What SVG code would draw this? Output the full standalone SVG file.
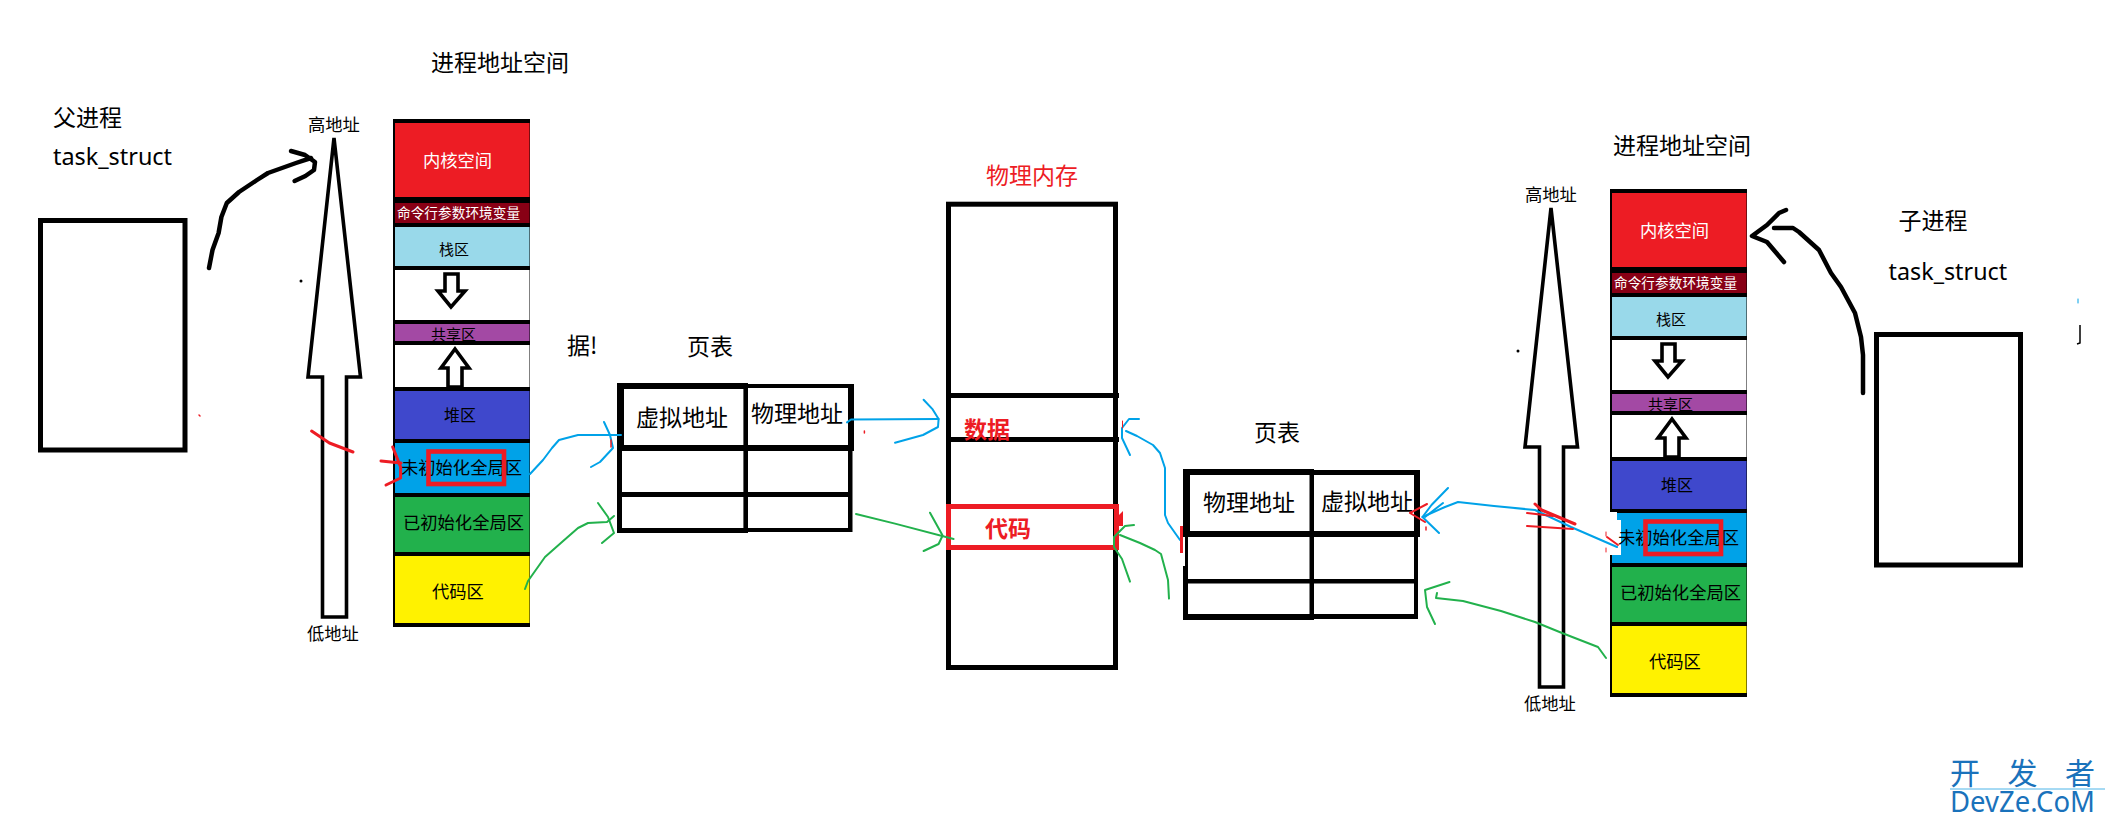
<svg xmlns="http://www.w3.org/2000/svg" width="2105" height="823" viewBox="0 0 2105 823">
<style>
text{font-family:"Noto Sans CJK SC","Noto Sans",sans-serif;fill:#000}
.lat{font-family:"Noto Sans","Noto Sans CJK SC",sans-serif}
.s23{font-size:23px}.s17{font-size:17.3px}.s15{font-size:15px}.s16{font-size:16px}.s13{font-size:13.6px}
.w{fill:#fff}.r{fill:#ed1c24}.bold{font-weight:700}
.box{fill:#fff;stroke:#000;stroke-width:5}
.arrow{fill:#fff;stroke:#000;stroke-width:3.6;stroke-linejoin:miter}
.ink,.blue,.green,.red{fill:none;stroke-linecap:round;stroke-linejoin:round}
.ink{stroke:#000;stroke-width:4.5}
.blue{stroke:#00a2e8;stroke-width:2}
.green{stroke:#22b14c;stroke-width:2}
.red{stroke:#ed1c24;stroke-width:3}
.frame{fill:none;stroke:#ed1c24;stroke-width:4.6}
.mark{fill:#1a72bb}
</style>

<g id="parent-process">
<text class="s23" x="53" y="126">父进程</text>
<text class="s23 lat" x="53" y="165" textLength="119" lengthAdjust="spacingAndGlyphs">task_struct</text>
<rect class="box" x="40.500" y="220.500" width="144.500" height="229.500"/>
</g>

<g id="parent-address-axis">
<text class="s17" x="308" y="130.500">高地址</text>
<polygon class="arrow" points="334,138 360.500,377 346.500,377 346.500,617 322.500,617 322.500,377 308,377"/>
<text class="s17" x="307" y="640">低地址</text>
<circle cx="301" cy="281" r="1.500" fill="#000"/>
</g>

<g id="parent-address-space">
<text class="s23" x="431" y="71">进程地址空间</text>
<rect x="393" y="119" width="137" height="508" fill="#000"/>
<rect x="395" y="123" width="134.500" height="74" fill="#ed1c24"/>
<rect x="395" y="203" width="134.500" height="20" fill="#880015"/>
<rect x="395" y="227" width="134.500" height="39" fill="#99d9ea"/>
<rect x="395" y="270" width="134.500" height="50" fill="#fff"/>
<rect x="395" y="324" width="134.500" height="17" fill="#a349a4"/>
<rect x="395" y="345" width="134.500" height="42" fill="#fff"/>
<rect x="395" y="391" width="134.500" height="48" fill="#3f48cc"/>
<rect x="395" y="443" width="134.500" height="50" fill="#00a2e8"/>
<rect x="395" y="497" width="134.500" height="55" fill="#22b14c"/>
<rect x="395" y="556" width="134.500" height="67" fill="#fff200"/>
<text class="s17 w" x="423" y="166.500">内核空间</text>
<text class="s13 w" x="397" y="218" textLength="123">命令行参数环境变量</text>
<text class="s15" x="439" y="254.500">栈区</text>
<polygon class="arrow" points="445,274 458,274 458,291 465,291 451,307 438,291 445,291"/>
<text class="s15" x="431" y="339.500">共享区</text>
<polygon class="arrow" points="455,349 469,368 462,368 462,387 448,387 448,368 441,368"/>
<text class="s16" x="444" y="421">堆区</text>
<text class="s17" x="401" y="474">未初始化全局区</text>
<rect class="frame" x="428.500" y="451.500" width="75.500" height="32.500"/>
<text class="s17" x="403" y="528.500">已初始化全局区</text>
<text class="s17" x="432" y="597.500">代码区</text>
</g>

<g id="parent-page-table">
<text class="s23" x="567" y="354">据!</text>
<text class="s23" x="687" y="355">页表</text>
<polygon points="617,383 748,383 748,384 854,384 854,451 852.500,451 852.500,532 748,532 748,533 617,533" fill="#000"/>
<rect class="w" x="624" y="389" width="119.400" height="56"/>
<rect class="w" x="748" y="388" width="100" height="57"/>
<rect class="w" x="622" y="451" width="121.400" height="41"/>
<rect class="w" x="748" y="451" width="100" height="41"/>
<rect class="w" x="622" y="497" width="121.400" height="31"/>
<rect class="w" x="748" y="497" width="100" height="31"/>
<text class="s23" x="636" y="426">虚拟地址</text>
<text class="s23" x="751" y="422">物理地址</text>
</g>

<g id="physical-memory">
<text class="s23 r" x="986" y="184">物理内存</text>
<rect class="box" x="948.500" y="204.200" width="167" height="463.300"/>
<rect x="946" y="393" width="173" height="5" fill="#000"/>
<rect x="946" y="437" width="173" height="5" fill="#000"/>
<text class="s23 r bold" x="964" y="437.500">数据</text>
<rect x="948.500" y="506.500" width="168" height="41" fill="none" stroke="#ed1c24" stroke-width="5"/>
<text class="s23 r bold" x="985" y="537">代码</text>
</g>

<g id="child-page-table">
<text class="s23" x="1254" y="441">页表</text>
<polygon points="1183,469 1314,469 1314,470 1420,470 1420,537 1418,537 1418,619 1314,619 1314,620 1183,620 1183,566 1185,566 1185,537 1183,537" fill="#000"/>
<rect class="w" x="1190" y="475" width="119.500" height="56"/>
<rect class="w" x="1314" y="475" width="100" height="56"/>
<rect class="w" x="1188" y="537" width="121.500" height="42"/>
<rect class="w" x="1314" y="537" width="100" height="42"/>
<rect class="w" x="1188" y="583.500" width="121.500" height="30.500"/>
<rect class="w" x="1314" y="583.500" width="100" height="30.500"/>
<text class="s23" x="1203" y="511">物理地址</text>
<text class="s23" x="1321" y="510">虚拟地址</text>
</g>

<g id="child-address-axis">
<text class="s17" x="1525" y="200.500">高地址</text>
<polygon class="arrow" points="1551,208 1577.500,447 1563.500,447 1563.500,687 1539.500,687 1539.500,447 1525,447"/>
<text class="s17" x="1524" y="710">低地址</text>
<circle cx="1518" cy="351" r="1.500" fill="#000"/>
</g>

<g id="child-address-space">
<text class="s23" x="1613" y="154">进程地址空间</text>
<rect x="1610" y="189" width="137" height="508" fill="#000"/>
<rect x="1612" y="193" width="134.500" height="74" fill="#ed1c24"/>
<rect x="1612" y="273" width="134.500" height="20" fill="#880015"/>
<rect x="1612" y="297" width="134.500" height="39" fill="#99d9ea"/>
<rect x="1612" y="340" width="134.500" height="50" fill="#fff"/>
<rect x="1612" y="394" width="134.500" height="17" fill="#a349a4"/>
<rect x="1612" y="415" width="134.500" height="42" fill="#fff"/>
<rect x="1612" y="461" width="134.500" height="48" fill="#3f48cc"/>
<rect x="1612" y="513" width="134.500" height="50" fill="#00a2e8"/>
<rect x="1612" y="567" width="134.500" height="55" fill="#22b14c"/>
<rect x="1612" y="626" width="134.500" height="67" fill="#fff200"/>
<polygon class="w" points="1610,512 1617,512 1617,520 1621,520 1621,555 1610,555"/>
<text class="s17 w" x="1640" y="236.500">内核空间</text>
<text class="s13 w" x="1614" y="288" textLength="123">命令行参数环境变量</text>
<text class="s15" x="1656" y="324.500">栈区</text>
<polygon class="arrow" points="1662,344 1675,344 1675,361 1682,361 1668,377 1655,361 1662,361"/>
<text class="s15" x="1648" y="409.500">共享区</text>
<polygon class="arrow" points="1672,419 1686,438 1679,438 1679,457 1665,457 1665,438 1658,438"/>
<text class="s16" x="1661" y="491">堆区</text>
<text class="s17" x="1618" y="544">未初始化全局区</text>
<rect class="frame" x="1645.500" y="521.500" width="75.500" height="32.500"/>
<text class="s17" x="1620" y="598.500">已初始化全局区</text>
<text class="s17" x="1649" y="667.500">代码区</text>
</g>

<g id="child-process">
<text class="s23" x="1898.500" y="229">子进程</text>
<text class="s23 lat" x="1888.600" y="280" textLength="118.500" lengthAdjust="spacingAndGlyphs">task_struct</text>
<rect class="box" x="1876.500" y="334.500" width="144" height="230.500"/>
</g>

<g id="connectors">
<path class="ink" d="M209,268 L212.500,250 L218.600,233 L221.400,217 L226.800,203 L239,192 L257,180 L268,173 L296,163 L311,158"/>
<path class="ink" d="M291,151 L305,155 L315,162 L314,170 L305.400,176 L294.600,181"/>
<path class="ink" d="M1863,393 L1863,355 L1861,337 L1855,313 L1841,287 L1831,273 L1819,250 L1799,232 L1793,228 L1774,228"/>
<path class="ink" d="M1786,210 L1779,213 L1767,225 L1752,236 L1767,242 L1784,262"/>

<path class="blue" d="M530,474 L543,460 L552,448 L559,440 L578,435 L621,435"/>
<path class="blue" d="M604,422 L610,435 L613,448 L600,462 L591,467"/>
<path class="green" d="M525,589 L528,581 L545,557 L562,542 L578,528 L588,523 L607,522 L614,516"/>
<path class="green" d="M598,503 L608,517 L614,533 L602,543"/>
<path class="blue" d="M847,422.400 L851,419.500 L938.600,419"/>
<path class="blue" d="M923.600,399.800 L932.700,409.400 L938.600,419 L938,427 L923,435 L895,442.800"/>
<path class="green" d="M856,514 L895,523.600 L953.600,539"/>
<path class="green" d="M930,512.700 L942.600,535.500 L938.600,544 L923.600,551"/>
<path class="blue" d="M1180,540 L1168,523 L1165,515 L1165,468 L1160,453 L1153,445 L1137,436 L1126,431"/>
<path class="blue" d="M1139,419 L1129,419 L1122,428 L1122,438 L1130,455"/>
<path class="green" d="M1169,598.600 L1168,580 L1161,554 L1155,550 L1140,543 L1120,535"/>
<path class="green" d="M1134,525 L1125,526 L1114,537 L1114,547 L1122,559 L1130,581.600"/>
<path class="blue" d="M1617,547 L1571,527 L1535,510 L1494,506 L1458,502 L1445,507 L1422.500,517"/>
<path class="blue" d="M1448,488 L1431.500,505 L1422.500,517 L1439,533"/>
<path class="blue" d="M1443,503 L1425,517"/>
<path class="green" d="M1606,658 L1598,647 L1562,633 L1535,622 L1501,611 L1463,601 L1436,598 L1437,593"/>
<path class="green" d="M1449.500,582 L1425,590 L1427,607 L1435,624"/>

<path class="red" d="M311.600,431 L329.400,443 L353,452"/>
<path class="red" d="M392.700,447 L400.600,467 L400.600,478 L386,485"/>
<path class="red" d="M381,461 L401,463"/>
<path class="red" d="M611,440 L611,447" style="stroke-width:1.500"/>
<path class="red" d="M199,415 L200,416" style="stroke-width:1.500"/>
<path class="red" d="M864.400,431 L864.400,433" style="stroke-width:1.500"/>
<path class="red" d="M1122.500,421 L1122.500,428" style="stroke-width:1"/>
<polygon points="1119,515 1123,511 1123,526 1119,526" fill="#ed1c24"/>
<path class="red" d="M1181.500,526 L1181.500,553" style="stroke-linecap:butt"/>
<path class="red" d="M1535,504 L1541.600,510 L1575,524"/>
<path class="red" d="M1527,513 L1553,516" style="stroke-width:2"/>
<path class="red" d="M1527,526 L1573,529" style="stroke-width:2"/>
<path class="red" d="M1427,504 L1410,513 L1425,522" style="stroke-width:2"/>
<path class="red" d="M1426,527 L1426,530" style="stroke-width:1.500"/>
<path class="red" d="M1607,537 L1618,545" style="stroke-width:2"/>
<path class="red" d="M1606,532 L1606,555" style="stroke-width:1;stroke-dasharray:4 12"/>
<path class="blue" d="M2078,299 L2078,303" style="stroke-width:1"/>
<path d="M2080,325 L2080,343 L2077,344" fill="none" stroke="#000" stroke-width="1.500"/>
</g>

<g id="watermark">
<text class="mark" x="1950" y="784" font-size="30" textLength="145">开发者</text>
<line x1="1950" y1="789" x2="2105" y2="789" stroke="#4db4e8" stroke-width="1"/>
<text class="lat mark" x="1950" y="812" font-size="29" textLength="145" lengthAdjust="spacingAndGlyphs">DevZe.CoM</text>
</g>
</svg>
